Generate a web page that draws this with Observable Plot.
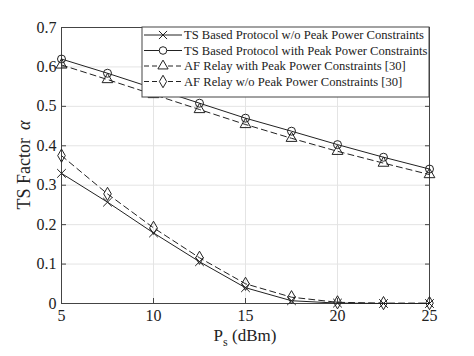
<!DOCTYPE html>
<html><head><meta charset="utf-8">
<script src="https://cdn.jsdelivr.net/npm/d3@7"></script>
<script src="https://cdn.jsdelivr.net/npm/@observablehq/plot@0.6"></script>
<style>body{margin:0;background:#fff} svg text{font-family:"Liberation Serif",serif !important;font-variant:normal !important}</style>
</head><body><div id="chart"></div>
<script>
const ps = [5, 7.5, 10, 12.5, 15, 17.5, 20, 22.5, 25];
const tsNoPeak = [0.330, 0.257, 0.179, 0.106, 0.040, 0.007, 0.001, 0.000, 0.000];
const tsPeak = [0.620, 0.584, 0.546, 0.508, 0.470, 0.437, 0.403, 0.371, 0.341];
const afPeak = [0.605, 0.568, 0.530, 0.492, 0.454, 0.419, 0.386, 0.356, 0.327];
const afNoPeak = [0.375, 0.278, 0.192, 0.116, 0.050, 0.016, 0.003, 0.001, 0.001];
const seriesNames = [
  "TS Based Protocol w/o Peak Power Constraints",
  "TS Based Protocol with Peak Power Constraints",
  "AF Relay with Peak Power Constraints [30]",
  "AF Relay w/o Peak Power Constraints [30]"
];
const seriesValues = [tsNoPeak, tsPeak, afPeak, afNoPeak];
const seriesSymbols = ["times", "circle", "triangle", "diamond"];
const seriesDash = [null, null, "6,4", "6,4"];
const xTicks = [5, 10, 15, 20, 25];
const yTicks = [0, 0.1, 0.2, 0.3, 0.4, 0.5, 0.6, 0.7];
const xLabel = ["P", "s", " (dBm)"];
const yLabel = ["TS Factor", "α"];

const ink = "#222";
const font = "Liberation Serif";
const W = 474, H = 356, mL = 61, mR = 45, mT = 27, mB = 53;

const marks = [
  Plot.gridX(xTicks, {stroke: "#e4e4e4", strokeOpacity: 1}),
  Plot.gridY(yTicks, {stroke: "#e4e4e4", strokeOpacity: 1}),
  Plot.axisX(xTicks, {tickSize: -5, tickPadding: 11, label: null, tickFormat: d => String(d), stroke: "#444", fontSize: 16}),
  Plot.axisY(yTicks, {tickSize: -5, tickPadding: 10, label: null, tickFormat: d => String(d), stroke: "#444", fontSize: 16}),
  Plot.axisX(xTicks, {anchor: "top", tickSize: -5, label: null, tickFormat: () => "", stroke: "#444"}),
  Plot.axisY(yTicks, {anchor: "right", tickSize: -5, label: null, tickFormat: () => "", stroke: "#444"}),
  Plot.frame({stroke: "#444"})
];
seriesNames.forEach((name, i) => {
  const rows = ps.map((p, j) => ({ps: p, v: seriesValues[i][j]}));
  marks.push(Plot.line(rows, {x: "ps", y: "v", stroke: ink, strokeWidth: 1, strokeDasharray: seriesDash[i]}));
  marks.push(Plot.dot(rows, {x: "ps", y: "v", symbol: seriesSymbols[i], r: 4, stroke: ink, strokeWidth: 1, fill: "none"}));
});

const chart = Plot.plot({
  width: W, height: H, marginLeft: mL, marginRight: mR, marginTop: mT, marginBottom: mB,
  style: {fontFamily: font, fontSize: "16px", color: ink, background: "#fff"},
  x: {domain: [5, 25]},
  y: {domain: [0, 0.7]},
  marks
});
document.getElementById("chart").appendChild(chart);

const svg = d3.select(chart);
// axis labels
const xl = svg.append("text")
  .attr("x", (mL + W - mR) / 2).attr("y", H - 15)
  .attr("text-anchor", "middle")
  .attr("font-size", 17).attr("fill", ink);
xl.append("tspan").text(xLabel[0]);
xl.append("tspan").attr("font-size", 12).attr("dy", 5).text(xLabel[1]);
xl.append("tspan").attr("dy", -5).text(xLabel[2]);
const yl = svg.append("text")
  .attr("transform", `translate(30,${(mT + H - mB) / 2}) rotate(-90)`)
  .attr("text-anchor", "middle")
  .attr("font-size", 18).attr("fill", ink);
yl.append("tspan").text(yLabel[0]);
yl.append("tspan").attr("dx", 8).attr("font-style", "italic").text(yLabel[1]);

// legend
const boxRight = W - mR, boxTop = mT, rowH = 15.5, boxW = 287;
const boxLeft = boxRight - boxW;
const lg = svg.append("g").attr("font-size", 12.6).attr("fill", ink).attr("text-anchor", "start");
lg.append("rect").attr("x", boxLeft).attr("y", boxTop).attr("width", boxW)
  .attr("height", rowH * seriesNames.length + 8).attr("fill", "#fff").attr("stroke", "#444");
const symGen = {times: d3.symbolTimes, circle: d3.symbolCircle, triangle: d3.symbolTriangle, diamond: d3.symbolDiamond};
seriesNames.forEach((name, i) => {
  const cy = boxTop + 8 + rowH * i;
  lg.append("line").attr("x1", boxLeft + 2).attr("x2", boxLeft + 40).attr("y1", cy).attr("y2", cy)
    .attr("stroke", ink).attr("stroke-dasharray", seriesDash[i] ? "5,3" : null);
  lg.append("path").attr("transform", `translate(${boxLeft + 21},${cy})`)
    .attr("d", d3.symbol(symGen[seriesSymbols[i]], 45)()).attr("fill", "#fff").attr("stroke", ink);
  lg.append("text").attr("x", boxLeft + 42).attr("y", cy).attr("dy", "0.35em").text(name);
});
</script>
</body></html>
